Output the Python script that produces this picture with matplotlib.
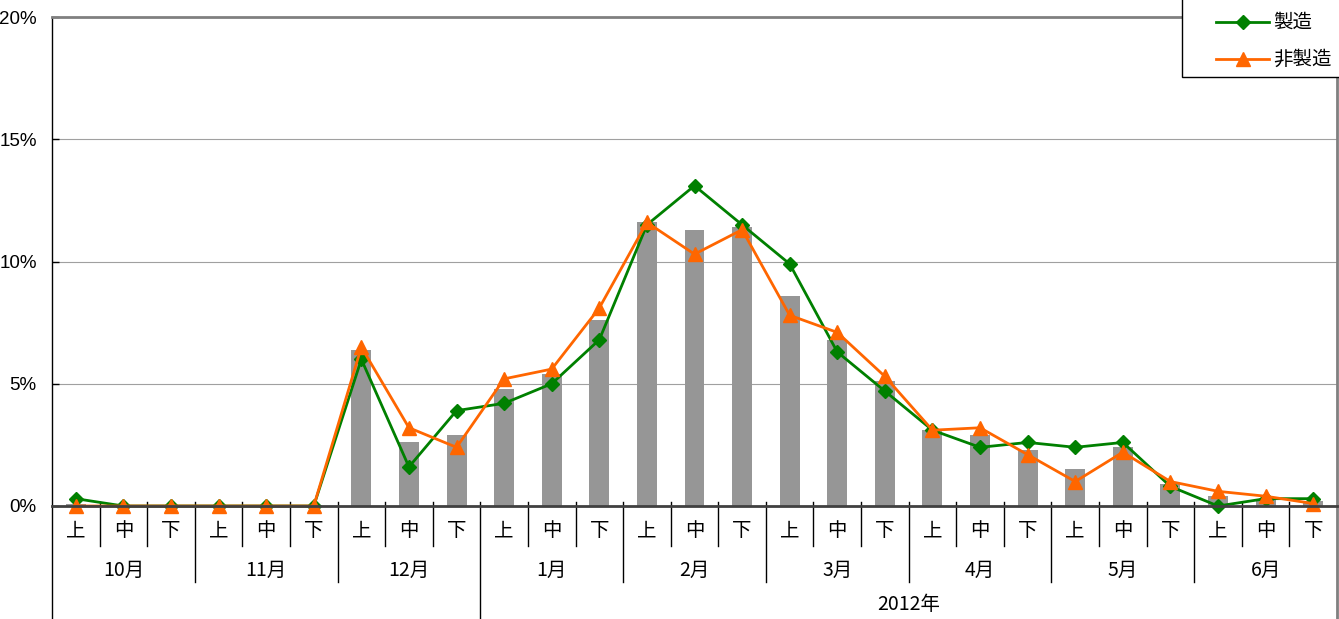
import matplotlib
matplotlib.use("Agg")
import matplotlib.pyplot as plt
from matplotlib.lines import Line2D
from matplotlib.patches import Rectangle

plt.rcParams['font.family'] = ['Noto Sans CJK JP', 'DejaVu Sans']

sub_labels = ['上', '中', '下'] * 9
month_labels = ['10月', '11月', '12月', '1月', '2月', '3月', '4月', '5月', '6月']
year_label = '2012年'

total = [0.1, 0, 0, 0, 0, 0, 6.4, 2.6, 2.9, 4.8, 5.4, 7.6, 11.6, 11.3, 11.4,
         8.6, 6.8, 5.1, 3.1, 2.9, 2.3, 1.5, 2.4, 0.9, 0.4, 0.3, 0.2]
manufacturing = [0.3, 0, 0, 0, 0, 0, 6.0, 1.6, 3.9, 4.2, 5.0, 6.8, 11.5, 13.1, 11.5,
                 9.9, 6.3, 4.7, 3.1, 2.4, 2.6, 2.4, 2.6, 0.8, 0.0, 0.3, 0.3]
non_manufacturing = [0, 0, 0, 0, 0, 0, 6.5, 3.2, 2.4, 5.2, 5.6, 8.1, 11.6, 10.3, 11.3,
                     7.8, 7.1, 5.3, 3.1, 3.2, 2.1, 1.0, 2.2, 1.0, 0.6, 0.4, 0.1]
series_names = ['製造', '非製造']
series_colors = ['#008000', '#FF6600']
series_markers = [('D', 7), ('^', 10)]

W, H = 1339, 619
fig = plt.figure(figsize=(W / 100, H / 100), dpi=100)
L, R, T, B = 52, 1337, 17, 506
ax = fig.add_axes([L / W, (H - B) / H, (R - L) / W, (B - T) / H])

n = len(total)
x = list(range(n))
ax.bar(x, total, width=0.42, color='#969696', zorder=2)
for vals, c, (mk, ms), z in zip([manufacturing, non_manufacturing], series_colors,
                                series_markers, [3, 4]):
    ax.plot(x, vals, color=c, lw=2, marker=mk, ms=ms, zorder=z, clip_on=False)

ax.set_xlim(-0.5, n - 0.5)
ax.set_ylim(0, 20)
ax.set_yticks([0, 5, 10, 15, 20])
ax.set_yticklabels(['0%', '5%', '10%', '15%', '20%'], fontsize=13.5, family='Liberation Sans')
ax.tick_params(axis='y', length=5, width=1, direction='in', pad=11)
ax.set_xticks([])
for v in [5, 10, 15]:
    ax.axhline(v, color='#a0a0a0', lw=0.8, zorder=1)

for s in ['top', 'right']:
    ax.spines[s].set_color('#808080')
    ax.spines[s].set_linewidth(2)
ax.spines['left'].set_color('black')
ax.spines['left'].set_linewidth(1)
ax.spines['bottom'].set_color('#404040')
ax.spines['bottom'].set_linewidth(2)
ax.spines['bottom'].set_zorder(5)

ph = B - T
def ay(ypx):
    return (B - ypx) / ph

tr = ax.get_xaxis_transform()
for i, lab in enumerate(sub_labels):
    ax.text(i, ay(531), lab, transform=tr, ha='center', va='center', fontsize=14)
for m, lab in enumerate(month_labels):
    ax.text(3 * m + 1, ay(570), lab, transform=tr, ha='center', va='center', fontsize=14)
ax.text((9 + n - 1) / 2, ay(605), year_label, transform=tr, ha='center', va='center', fontsize=14)

for k in range(1, n):
    xb = k - 0.5
    if k == 9:
        y1 = 619
    elif k % 3 == 0:
        y1 = 582
    else:
        y1 = 546
    ax.plot([xb, xb], [ay(502), ay(y1)], transform=tr, color='black', lw=1, clip_on=False)
for xb in [-0.5, n - 0.5]:
    ax.plot([xb, xb], [0, ay(625)], transform=tr, color='black' if xb < 0 else '#808080',
            lw=1 if xb < 0 else 2, clip_on=False)

# legend drawn in figure pixel coordinates
def fx(px):
    return px / W
def fy(py):
    return (H - py) / H

fig.patches.append(Rectangle((fx(1182), fy(77)), fx(1350) - fx(1182), fy(-10) - fy(77),
                             transform=fig.transFigure, facecolor='white',
                             edgecolor='black', lw=1, zorder=10))
for j, (name, c, (mk, ms)) in enumerate(zip(series_names, series_colors, series_markers)):
    yy = 22 + 37 * j
    fig.add_artist(Line2D([fx(1216), fx(1269)], [fy(yy), fy(yy)], transform=fig.transFigure,
                          color=c, lw=2, zorder=11))
    fig.add_artist(Line2D([fx(1243)], [fy(yy)], transform=fig.transFigure, color=c,
                          marker=mk, ms=ms, zorder=12))
    fig.text(fx(1273), fy(yy), name, ha='left', va='center', fontsize=14, zorder=12)

fig.savefig('out.png', dpi=100)
